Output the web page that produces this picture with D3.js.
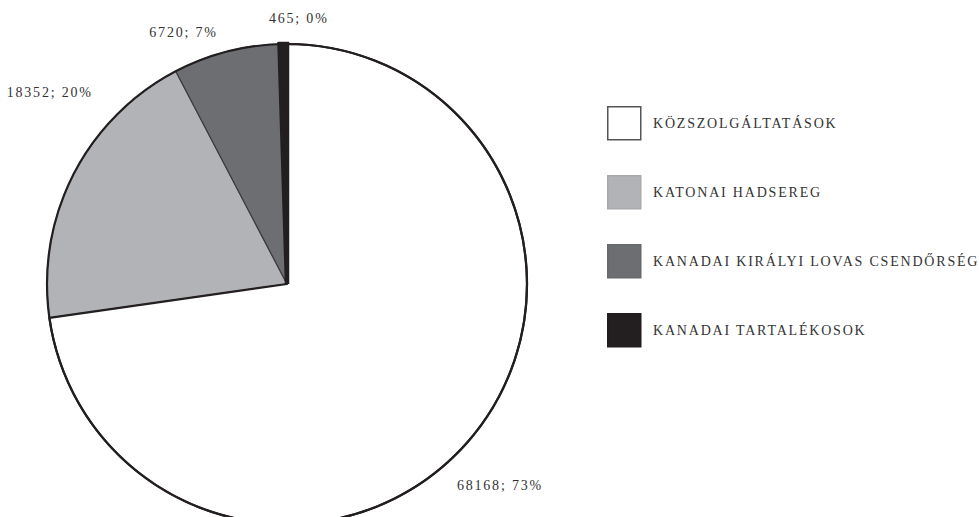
<!DOCTYPE html>
<html>
<head>
<meta charset="utf-8">
<script src="https://cdn.jsdelivr.net/npm/d3@7"></script>
<style>
  html, body { margin: 0; padding: 0; background: #fff; }
  svg { display: block; }
  text { font-family: "Liberation Serif", "DejaVu Serif", serif; fill: #333; }
</style>
</head>
<body>
<svg id="chart" width="979" height="517"></svg>
<script>
// slice data, clockwise from 12 o'clock
const categories = ["KÖZSZOLGÁLTATÁSOK", "KATONAI HADSEREG", "KANADAI KIRÁLYI LOVAS CSENDŐRSÉG", "KANADAI TARTALÉKOSOK"];
const values = [68168, 18352, 6720, 465];
const colors = ["#ffffff", "#b2b3b6", "#6d6e72", "#231f20"];

// layout
const width = 979, height = 517;
const cx = 287, cy = 284, radius = 240;
const labelRadius = 270;
// small nudges so labels sit where the original put them
const labelNudge = [[9, 24], [3, -69], [-35, 9], [16, 4]];

const svg = d3.select("#chart");
const total = d3.sum(values);

const pie = d3.pie().sort(null).value(d => d.value);
const data = values.map((v, i) => ({ name: categories[i], value: v, color: colors[i], i: i }));
const arcs = pie(data);

const arc = d3.arc().innerRadius(0).outerRadius(radius);
const labelArc = d3.arc().innerRadius(labelRadius).outerRadius(labelRadius);

const g = svg.append("g").attr("transform", `translate(${cx},${cy})`);

// grey slices
g.selectAll("path.slice")
  .data(arcs.slice(1, 3))
  .enter().append("path")
  .attr("class", "slice")
  .attr("d", arc)
  .attr("fill", d => d.data.color)
  .attr("stroke", "#3c3c3e")
  .attr("stroke-width", 1.2);

// white slice with a heavy outline
g.append("path")
  .attr("d", arc(arcs[0]))
  .attr("fill", colors[0])
  .attr("stroke", "#231f20")
  .attr("stroke-width", 2.2)
  .attr("stroke-linejoin", "round");

// thin black slice, drawn with a fat stroke like the original
g.append("path")
  .attr("d", arc(arcs[3]))
  .attr("fill", colors[3])
  .attr("stroke", colors[3])
  .attr("stroke-width", 4.5)
  .attr("stroke-linejoin", "miter");

// outer rim
g.append("circle")
  .attr("r", radius)
  .attr("fill", "none")
  .attr("stroke", "#231f20")
  .attr("stroke-width", 2.2);

// value labels
g.selectAll("text.lbl")
  .data(arcs)
  .enter().append("text")
  .attr("class", "lbl")
  .attr("transform", d => {
    const c = labelArc.centroid(d);
    const n = labelNudge[d.data.i];
    return `translate(${c[0] + n[0]},${c[1] + n[1]})`;
  })
  .attr("text-anchor", "middle")
  .attr("dy", "0.35em")
  .attr("font-size", 14)
  .attr("letter-spacing", 1.8)
  .text(d => `${d.data.value}; ${Math.round(d.data.value / total * 100)}%`);

// legend
const legendY = d3.scalePoint().domain(categories).range([106, 313]);
const legend = svg.append("g").attr("transform", "translate(607,0)");

const item = legend.selectAll("g.item")
  .data(data)
  .enter().append("g")
  .attr("class", "item")
  .attr("transform", d => `translate(0,${legendY(d.name)})`);

item.append("rect")
  .attr("x", 0.75).attr("y", 0.75)
  .attr("width", 33).attr("height", 33)
  .attr("fill", d => d.color)
  .attr("stroke", (d, i) => i === 0 ? "#555" : d3.color(d.color).darker(0.15))
  .attr("stroke-width", 1.5);

item.append("text")
  .attr("x", 46)
  .attr("y", 17)
  .attr("dy", "0.35em")
  .attr("font-size", 14)
  .attr("letter-spacing", 1.8)
  .text(d => d.name);
</script>
</body>
</html>
